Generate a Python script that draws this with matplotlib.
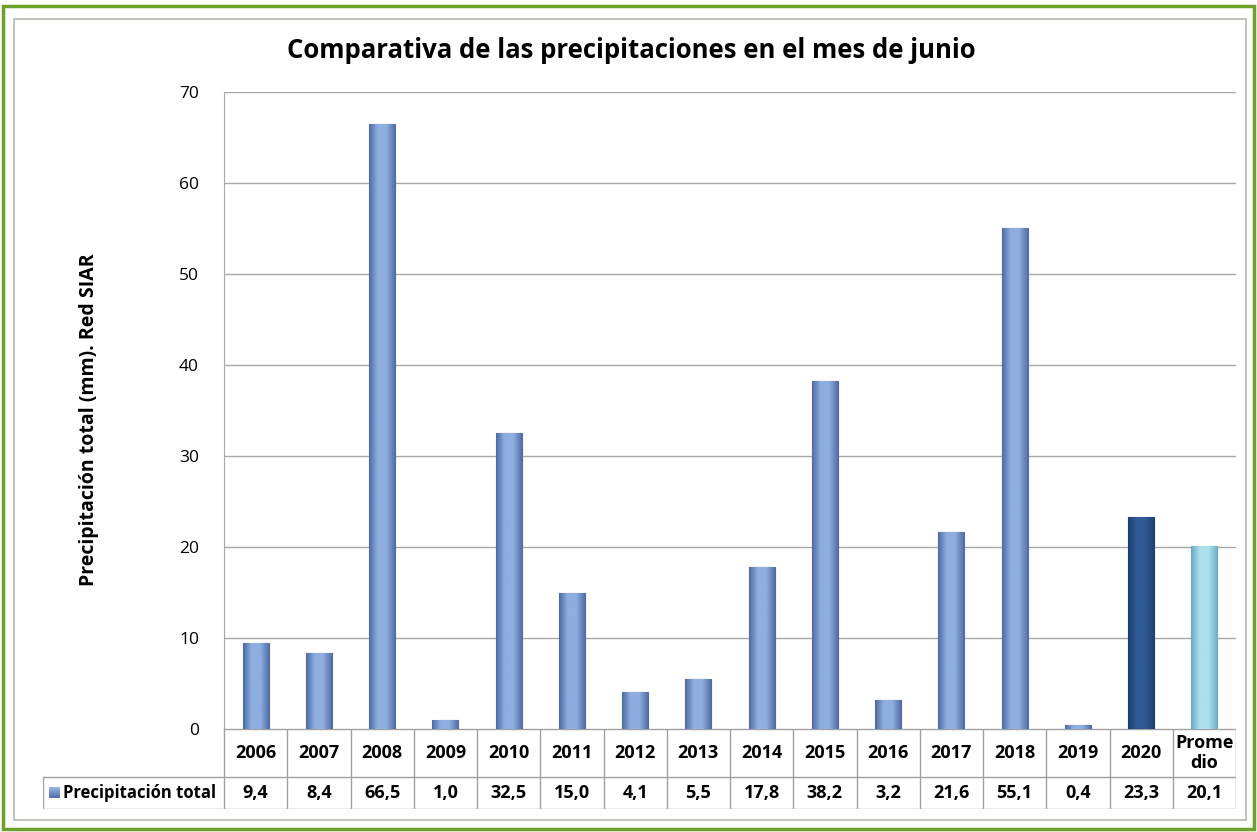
import matplotlib.pyplot as plt
from matplotlib.patches import Rectangle
from matplotlib.colors import LinearSegmentedColormap
import numpy as np

# --- Data ---
CATEGORIES = ["2006", "2007", "2008", "2009", "2010", "2011", "2012", "2013",
              "2014", "2015", "2016", "2017", "2018", "2019", "2020", "Prome\ndio"]
VALUES = [9.4, 8.4, 66.5, 1.0, 32.5, 15.0, 4.1, 5.5,
          17.8, 38.2, 3.2, 21.6, 55.1, 0.4, 23.3, 20.1]
VALUE_LABELS = ["9,4", "8,4", "66,5", "1,0", "32,5", "15,0", "4,1", "5,5",
                "17,8", "38,2", "3,2", "21,6", "55,1", "0,4", "23,3", "20,1"]
SERIES_NAME = "Precipitación total"
TITLE = "Comparativa de las precipitaciones en el mes de junio"
YLABEL = "Precipitación total (mm). Red SIAR"
YTICKS = [0, 10, 20, 30, 40, 50, 60, 70]

W, H = 1257, 832
FONT = "Open Sans"

# gradients: (edge, highlight, edge)
BAR_COLORS = {
    "normal": ("#4f6aa3", "#8eaee0", "#5570aa"),
    "2020": ("#1c3f70", "#2f5a94", "#1f4376"),
    "Prome\ndio": ("#6aaabf", "#ade0ee", "#74b4c8"),
}


def fx(px):
    return px / W


def fy(py):
    return 1 - py / H


def main():
    fig = plt.figure(figsize=(W / 100, H / 100), dpi=100)
    fig.patch.set_facecolor("white")

    # outer frames
    fig.patches.append(Rectangle((fx(3), fy(829)), fx(1251), 823 / H, transform=fig.transFigure,
                                 fill=False, edgecolor="#6ea12a", linewidth=2.5))
    fig.patches.append(Rectangle((fx(14), fy(820)), fx(1232), 801 / H, transform=fig.transFigure,
                                 fill=False, edgecolor="#b8b8b0", linewidth=1.2))

    # --- main bar axes ---
    ax = fig.add_axes([fx(224), fy(729), fx(1236 - 224), (729 - 92) / H])
    x = np.arange(len(VALUES))
    bars = ax.bar(x, VALUES, width=0.41, linewidth=0.8, zorder=3)
    for b, cat in zip(bars, CATEGORIES):
        c = BAR_COLORS.get(cat, BAR_COLORS["normal"])
        cmap = LinearSegmentedColormap.from_list("g", [c[0], c[1], c[1], c[2]])
        b.set_facecolor(c[1])
        b.set_edgecolor(c[0])
        x0, y0 = b.get_x(), b.get_y()
        grad = np.linspace(0, 1, 64).reshape(1, -1)
        im = ax.imshow(grad, cmap=cmap, aspect="auto", zorder=3.5,
                       extent=(x0, x0 + b.get_width(), y0, y0 + b.get_height()))
        im.set_clip_path(b)

    ax.set_xlim(-0.5, len(VALUES) - 0.5)
    ax.set_ylim(0, 70)
    ax.set_yticks(YTICKS)
    ax.set_yticklabels([str(t) for t in YTICKS], fontsize=12.5, family=FONT)
    ax.tick_params(axis="y", length=0, pad=18)
    ax.set_xticks([])
    ax.grid(axis="y", color="#a8a8a8", linewidth=1.0, zorder=0)
    for s in ["top", "right", "bottom"]:
        ax.spines[s].set_visible(False)
    ax.spines["left"].set_color("#a8a8a8")
    ax.set_facecolor("none")

    fig.text(fx(631), fy(50), TITLE, ha="center", va="center", fontsize=18.5,
             fontweight="bold", family=FONT)
    fig.text(fx(89), fy(420), YLABEL, ha="center", va="center", rotation=90,
             fontsize=14, fontweight="bold", family=FONT)

    # --- data table below ---
    lab_w = (224 - 43) / ((1236 - 224) / len(VALUES))
    tab = fig.add_axes([fx(43), fy(809), fx(1236 - 43), 80 / H])
    tab.set_xlim(-0.5 - lab_w, len(VALUES) - 0.5)
    tab.set_ylim(0, 80)
    tab.axis("off")
    lc = "#a0a0a0"
    n = len(VALUES)
    # horizontal lines
    tab.plot([-0.5, n - 0.5], [80, 80], color=lc, lw=1.0)
    tab.plot([-0.5 - lab_w, n - 0.5], [32, 32], color=lc, lw=1.0)
    tab.plot([-0.5 - lab_w, n - 0.5], [0, 0], color=lc, lw=1.0)
    # vertical lines
    for i in range(n + 1):
        tab.plot([i - 0.5, i - 0.5], [0, 80], color=lc, lw=1.0)
    tab.plot([-0.5 - lab_w, -0.5 - lab_w], [0, 32], color=lc, lw=1.0)

    for i, (cat, lab) in enumerate(zip(CATEGORIES, VALUE_LABELS)):
        tab.text(i, 56, cat, ha="center", va="center", fontsize=13,
                 fontweight="bold", family=FONT, linespacing=1.15)
        tab.text(i, 16, lab, ha="center", va="center", fontsize=13,
                 fontweight="bold", family=FONT)

    # legend key + series name
    key_w = 11 / ((1236 - 43) / (n + lab_w))
    kx = -0.5 - lab_w + 0.1
    cmap = LinearSegmentedColormap.from_list("k", ["#4f6ea8", "#9ab8e6"])
    tab.imshow(np.linspace(0, 1, 32).reshape(-1, 1)[::-1], cmap=cmap, aspect="auto",
               extent=(kx, kx + key_w, 11, 22), zorder=3)
    tab.set_xlim(-0.5 - lab_w, n - 0.5)
    tab.set_ylim(0, 80)
    tab.text(kx + key_w + 0.05, 16, SERIES_NAME, ha="left", va="center", fontsize=12,
             fontweight="bold", family=FONT)

    fig.savefig("out.png", dpi=100)


if __name__ == "__main__":
    main()
